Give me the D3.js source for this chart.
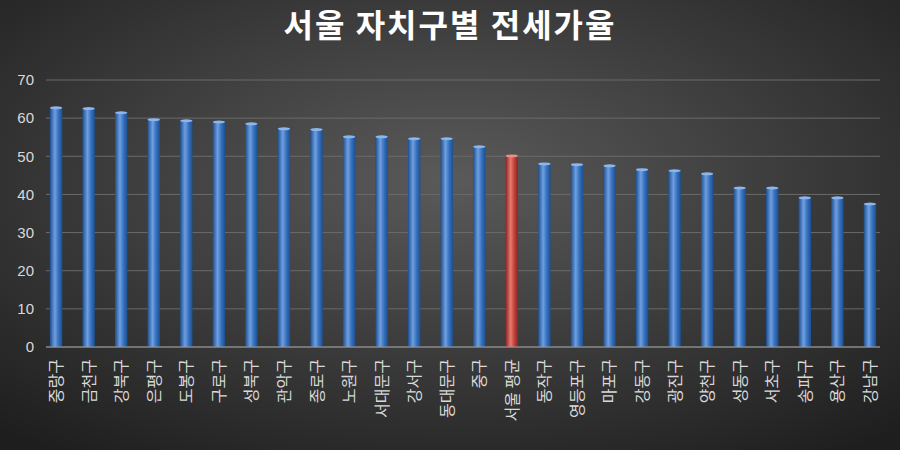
<!DOCTYPE html>
<html><head><meta charset="utf-8">
<script src="https://cdn.jsdelivr.net/npm/d3@7"></script>
<style>body{margin:0;background:#333}</style>
</head><body><div id="root"></div>
<script>
const districts = ["중랑구","금천구","강북구","은평구","도봉구","구로구","성북구","관악구","종로구","노원구","서대문구","강서구","동대문구","중구","서울 평균","동작구","영등포구","마포구","강동구","광진구","양천구","성동구","서초구","송파구","용산구","강남구"];
const ratios = [62.7,62.5,61.4,59.6,59.3,59.0,58.5,57.2,57.0,55.1,55.1,54.6,54.6,52.5,50.1,48.0,47.8,47.5,46.5,46.2,45.4,41.7,41.7,39.1,39.1,37.5];
const yTicks = [0,10,20,30,40,50,60,70];

const width = 900, height = 450;
const margin = {top: 80, right: 20, bottom: 103, left: 46};

const svg = d3.select("#root").append("svg").attr("width", width).attr("height", height)
  .style("font-family", "'Noto Sans CJK KR', sans-serif");

const defs = svg.append("defs");
const bg = defs.append("radialGradient").attr("id","bg").attr("cx","50%").attr("cy","40%").attr("r","75%");
bg.append("stop").attr("offset","0%").attr("stop-color","#5a5a5a");
bg.append("stop").attr("offset","100%").attr("stop-color","#1e1e1e");
function barGrad(id, dark, mid, light) {
  const g = defs.append("linearGradient").attr("id", id).attr("x1","0").attr("x2","1");
  g.append("stop").attr("offset","0%").attr("stop-color", dark);
  g.append("stop").attr("offset","40%").attr("stop-color", light);
  g.append("stop").attr("offset","70%").attr("stop-color", mid);
  g.append("stop").attr("offset","100%").attr("stop-color", dark);
}
barGrad("blue", "#1d4f8f", "#3570bd", "#6f9fe0");
barGrad("red", "#8e2420", "#c0413b", "#e57a74");

svg.append("rect").attr("width", width).attr("height", height).attr("fill", "url(#bg)");

svg.append("text").attr("x", width / 2).attr("y", 37).attr("text-anchor", "middle")
  .attr("fill", "#fff").attr("font-size", 32).attr("font-weight", "bold")
  .style("letter-spacing", "2px").text("서울 자치구별 전세가율");

const innerW = width - margin.left - margin.right;
const innerH = height - margin.top - margin.bottom;
const g = svg.append("g").attr("transform", `translate(${margin.left},${margin.top})`);

const x = d3.scaleBand().domain(districts).range([0, innerW]).paddingInner(0.62).paddingOuter(0.12);
const y = d3.scaleLinear().domain([0, 70]).range([innerH, 0]);

g.selectAll(".grid").data(yTicks).join("line")
  .attr("x1", 0).attr("x2", innerW).attr("y1", d => y(d)).attr("y2", d => y(d))
  .attr("stroke", "#6a6a6a").attr("stroke-width", 1);

const yAxis = g.append("g").call(d3.axisLeft(y).tickValues(yTicks).tickSize(0).tickPadding(12));
yAxis.select(".domain").remove();
yAxis.selectAll("text").attr("fill", "#d9d9d9").attr("font-size", 15).attr("font-family", "'Liberation Sans', sans-serif");

g.selectAll(".bar").data(districts).join("rect")
  .attr("x", d => x(d)).attr("width", x.bandwidth())
  .attr("y", (d, i) => y(ratios[i])).attr("height", (d, i) => innerH - y(ratios[i]))
  .attr("fill", d => d === "서울 평균" ? "url(#red)" : "url(#blue)");

g.selectAll(".bartop").data(districts).join("ellipse")
  .attr("cx", d => x(d) + x.bandwidth() / 2).attr("cy", (d, i) => y(ratios[i]))
  .attr("rx", x.bandwidth() / 2).attr("ry", 1.5)
  .attr("fill", d => d === "서울 평균" ? "#e8908a" : "#8db6ec");

g.append("line").attr("x1", 0).attr("x2", innerW).attr("y1", innerH).attr("y2", innerH)
  .attr("stroke", "#9a9a9a");

g.selectAll(".lab").data(districts).join("text")
  .attr("transform", d => `translate(${x(d) + x.bandwidth() / 2 + 6},${innerH + 12}) rotate(-90)`)
  .attr("text-anchor", "end").attr("fill", "#d9d9d9").attr("font-size", 16)
  .text(d => d);
</script></body></html>
